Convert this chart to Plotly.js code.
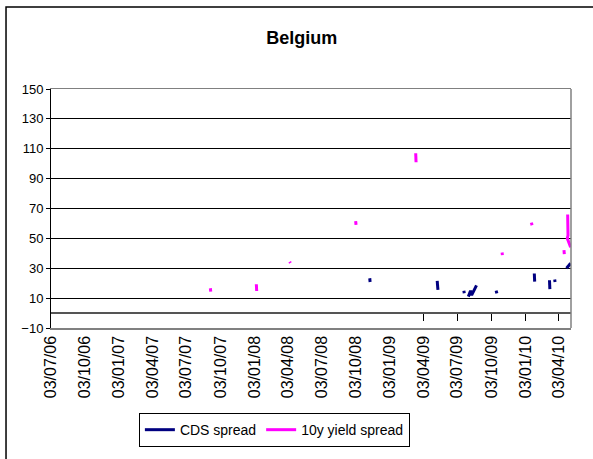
<!DOCTYPE html>
<html>
<head>
<meta charset="utf-8">
<script src="https://cdn.plot.ly/plotly-3.0.1.min.js"></script>
<style>html,body{margin:0;padding:0;background:#fff;}#chart{width:593px;height:459px;}</style>
</head>
<body>
<div id="chart"></div>
<script>
// Quarterly tick dates and their labels
var tickDates = ['2006-07-03','2006-10-03','2007-01-03','2007-04-03','2007-07-03','2007-10-03',
  '2008-01-03','2008-04-03','2008-07-03','2008-10-03','2009-01-03','2009-04-03',
  '2009-07-03','2009-10-03','2010-01-03','2010-04-03'];
var tickLabels = ['03/07/06','03/10/06','03/01/07','03/04/07','03/07/07','03/10/07',
  '03/01/08','03/04/08','03/07/08','03/10/08','03/01/09','03/04/09',
  '03/07/09','03/10/09','03/01/10','03/04/10'];
var yTicks = [-10, 10, 30, 50, 70, 90, 110, 130, 150];

// CDS spread (gaps = null)
var cdsDates = ['2008-11-09','2008-11-10','2008-11-11',
  '2009-05-10','2009-05-11','2009-05-12','2009-05-13',
  '2009-07-21','2009-07-22','2009-07-23',
  '2009-08-02','2009-08-05','2009-08-08','2009-08-11','2009-08-15','2009-08-19','2009-08-24','2009-08-25',
  '2009-10-16','2009-10-18','2009-10-19',
  '2010-01-27','2010-01-28','2010-01-29',
  '2010-03-09','2010-03-10','2010-03-11',
  '2010-03-23','2010-03-24','2010-03-25',
  '2010-04-24','2010-04-27','2010-05-01','2010-05-05'];
var cdsValues = [23.3, 20.8, null,
  21.5, 18, 15.5, null,
  15, 13.3, null,
  11, 13, 15, 12, 14, 16.5, 18.5, null,
  15, 13.2, null,
  26.5, 21, null,
  22, 16, null,
  22.5, 20.8, null,
  30, 31, 32.5, 33.3];

// 10y yield spread (gaps = null)
var yieldDates = ['2007-09-06','2007-09-07','2007-09-08',
  '2008-01-08','2008-01-09','2008-01-10',
  '2008-04-07','2008-04-09','2008-04-10',
  '2008-10-02','2008-10-03','2008-10-04',
  '2009-03-13','2009-03-14','2009-03-15',
  '2009-11-01','2009-11-02','2009-11-03',
  '2010-01-19','2010-01-21','2010-01-22',
  '2010-04-17','2010-04-18','2010-04-19',
  '2010-04-27','2010-04-28','2010-04-26','2010-05-01','2010-05-05'];
var yieldValues = [16.6, 14.3, null,
  19.3, 14.8, null,
  34.3, 33.5, null,
  61.5, 59, null,
  107, 101, null,
  40.5, 38.8, null,
  60.5, 58.8, null,
  42.2, 39.4, null,
  66, 52, 50, 47, 44];

var zeroTickDates = tickDates.slice(11);

var font = 'Liberation Sans, Arial, sans-serif';

var traces = [
  {x: cdsDates, y: cdsValues, type: 'scatter', mode: 'lines', name: 'CDS spread',
   line: {color: '#000080', width: 3}, connectgaps: false},
  {x: yieldDates, y: yieldValues, type: 'scatter', mode: 'lines', name: '10y yield spread',
   line: {color: '#FF00FF', width: 3}, connectgaps: false},
  {x: [zeroTickDates[0]], y: [null], xaxis: 'x2', type: 'scatter', mode: 'lines',
   showlegend: false, hoverinfo: 'skip'}
];

var layout = {
  width: 593, height: 459,
  margin: {l: 51, r: 22, t: 89, b: 131},
  paper_bgcolor: '#fff', plot_bgcolor: '#fff',
  font: {family: font, color: '#000'},
  title: {text: '<b>Belgium</b>', font: {family: font, size: 18, color: '#000'},
          xref: 'container', yref: 'container', x: 0.509, y: 0.917,
          xanchor: 'center', yanchor: 'middle'},
  showlegend: true,
  legend: {orientation: 'h', x: 0.169, y: -0.356, xanchor: 'left', yanchor: 'top',
           bordercolor: '#000', borderwidth: 1, bgcolor: '#fff',
           font: {family: font, size: 14, color: '#000'}},
  xaxis: {type: 'date', range: ['2006-07-03', '2010-05-06'],
          tickmode: 'array', tickvals: tickDates, ticktext: tickLabels,
          tickangle: -90, tickfont: {family: font, size: 16, color: '#000'},
          ticks: '', showgrid: false, zeroline: false,
          showline: true, linecolor: '#808080', linewidth: 1.5, mirror: true},
  xaxis2: {type: 'date', overlaying: 'x', anchor: 'free', position: 0.0625,
           range: ['2006-07-03', '2010-05-06'], tickmode: 'array', tickvals: zeroTickDates,
           showticklabels: false, ticks: 'outside', ticklen: 7, tickcolor: '#000', tickwidth: 1,
           showgrid: false, zeroline: false, showline: false},
  yaxis: {range: [-10, 150], tickmode: 'array', tickvals: yTicks,
          tickfont: {family: font, size: 13, color: '#000'},
          ticks: 'outside', ticklen: 4, tickcolor: '#000',
          showline: true, linecolor: '#000', linewidth: 1,
          showgrid: true, gridcolor: '#000', gridwidth: 1,
          zeroline: true, zerolinecolor: '#555', zerolinewidth: 2.5},
  shapes: [
    {type: 'line', xref: 'paper', yref: 'paper', x0: 1, x1: 1, y0: 0, y1: 1,
     line: {color: '#808080', width: 1.5}},
    {type: 'rect', xref: 'paper', yref: 'paper', x0: -0.0865, x1: 1.3, y0: -1, y1: 1.343,
     line: {color: '#000', width: 1.5}, fillcolor: 'rgba(0,0,0,0)'}
  ]
};

Plotly.newPlot('chart', traces, layout, {staticPlot: true, displayModeBar: false});
</script>
</body>
</html>
